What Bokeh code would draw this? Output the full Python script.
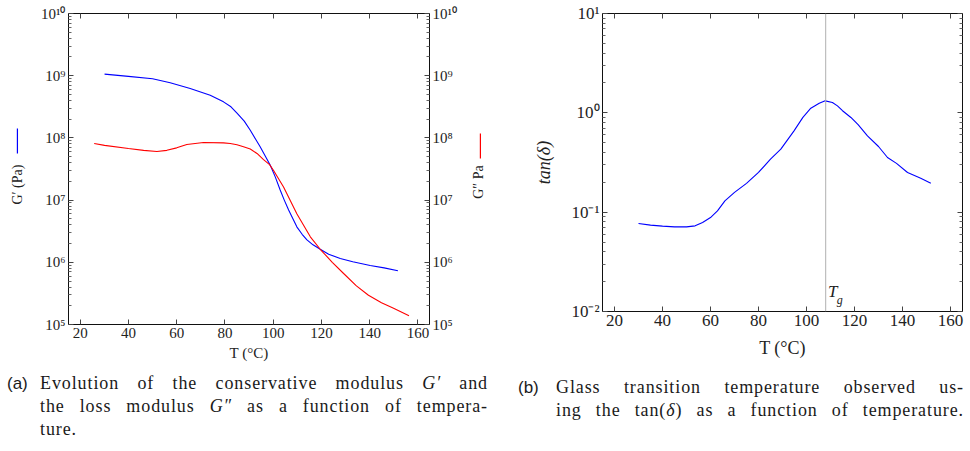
import numpy as np
from bokeh.plotting import figure
from bokeh.models import (LogAxis, LinearAxis, FixedTicker, Span, Label, Div,
                          Range1d, CustomJSTickFormatter)
from bokeh.layouts import row, column
from bokeh.embed import file_html
from bokeh.resources import INLINE
from bokeh.core.properties import value

# ---------------- data ----------------
T_gp = [30.1, 40, 50, 57.3, 65.6, 73.9, 79.4, 82.5, 85.0, 88.0, 90.5, 94.6, 98.8, 100.9, 102.9,
        104.6, 106.4, 109.8, 112.0, 114.0, 116.5, 119.5, 123.0, 127.8, 133.0, 140.2, 146.0, 151.7]
G_prime = [1.06e9, 9.77e8, 8.91e8, 7.69e8, 6.22e8, 4.86e8, 3.80e8, 3.16e8, 2.50e8, 1.86e8,
           1.33e8, 7.19e7, 3.63e7, 2.34e7, 1.45e7, 1.0e7, 6.92e6, 3.72e6, 2.82e6, 2.29e6,
           1.91e6, 1.62e6, 1.35e6, 1.15e6, 1.02e6, 8.91e5, 8.13e5, 7.30e5]

T_gpp = [25.8, 30.1, 40, 46.3, 51.8, 55.9, 60, 64.2, 71.1, 79.4, 82.2, 85.0, 87.7, 90.5, 93.3,
         96.0, 98.5, 100.1, 104.3, 109.8, 115.4, 119.5, 124.5, 129.2, 134.5, 139.5, 144.9,
         149.9, 156.3]
G_second = [8.13e7, 7.59e7, 6.76e7, 6.31e7, 6.03e7, 6.31e7, 6.92e7, 7.83e7, 8.43e7, 8.32e7,
            8.13e7, 7.76e7, 7.19e7, 6.61e7, 5.62e7, 4.47e7, 3.72e7, 3.02e7, 1.62e7, 6.03e6,
            2.57e6, 1.62e6, 1.0e6, 6.61e5, 4.17e5, 2.95e5, 2.24e5, 1.82e5, 1.38e5]

T_tan = [30, 35, 40, 45, 50, 53.6, 56.7, 60, 62.9, 66, 70, 75, 80, 85, 89.3, 94.8, 98.5,
         101.8, 105.3, 107.8, 110.8, 112.9, 115, 118.5, 121.5, 125.4, 130, 133.75, 137.5,
         142.1, 147.6, 151.8]
tan_delta = [0.0769, 0.0740, 0.0723, 0.0711, 0.0711, 0.0728, 0.0787, 0.0883, 0.103, 0.130,
             0.158, 0.195, 0.251, 0.342, 0.431, 0.659, 0.90, 1.114, 1.25, 1.32, 1.27, 1.175,
             1.05, 0.898, 0.76, 0.586, 0.458, 0.355, 0.31, 0.251, 0.220, 0.196]

Tg = 108

x_ticks = [20, 40, 60, 80, 100, 120, 140, 160]
y1_ticks = [1e5, 1e6, 1e7, 1e8, 1e9, 1e10]
y1_labels = ["10⁵", "10⁶", "10⁷", "10⁸", "10⁹", "10¹⁰"]
y2_ticks = [1e-2, 1e-1, 1e0, 1e1]
y2_labels = ["10⁻²", "10⁻¹", "10⁰", "10¹"]

FONT = "Liberation Serif"
BLUE = "#0000ff"
RED = "#ff0000"
TXT = "#222222"


def minor_for(ticks):
    out = []
    for t in ticks[:-1]:
        out += [t * k for k in range(2, 10)]
    return out


def log_formatter(ticks, labels):
    return CustomJSTickFormatter(args=dict(tvals=ticks, tlabels=labels), code="""
        for (let i = 0; i < tvals.length; i++) {
            if (Math.abs(Math.log10(tvals[i]) - Math.log10(tick)) < 1e-6) return tlabels[i];
        }
        return "";
    """)


def blank_formatter():
    return CustomJSTickFormatter(code="return '';")


def style(ax, fs, minor=True):
    ax.axis_line_color = "#111111"
    ax.axis_line_width = 1
    ax.major_tick_in = 5
    ax.major_tick_out = 0
    ax.minor_tick_in = 3 if minor else 0
    ax.minor_tick_out = 0
    ax.major_tick_line_color = "#444444"
    ax.minor_tick_line_color = "#666666" if minor else None
    ax.major_label_text_font = FONT
    ax.major_label_text_color = TXT
    ax.major_label_text_font_size = fs
    ax.major_label_standoff = 3
    ax.axis_label_text_font = FONT
    ax.axis_label_text_font_style = "normal"
    ax.axis_label_text_color = TXT


# ---------------- figure (a) ----------------
p1 = figure(frame_width=361, frame_height=311, y_axis_type="log",
            x_range=Range1d(15.15, 164.8), y_range=Range1d(1e5, 1e10),
            output_backend="svg", toolbar_location=None,
            min_border_left=32, min_border_right=41, min_border_top=10, min_border_bottom=47)
p1.grid.visible = False
p1.outline_line_color = None

p1.xaxis.ticker = FixedTicker(ticks=x_ticks)
style(p1.xaxis[0], "15px", minor=False)
p1.xaxis.axis_label = "T (°C)"
p1.xaxis.axis_label_text_font_size = "15px"
p1.xaxis.axis_label_standoff = 4

p1.yaxis.ticker = FixedTicker(ticks=y1_ticks, minor_ticks=minor_for(y1_ticks))
p1.yaxis.formatter = log_formatter(y1_ticks, y1_labels)
style(p1.yaxis[0], "15px")

r1 = LogAxis(ticker=FixedTicker(ticks=y1_ticks, minor_ticks=minor_for(y1_ticks)),
             formatter=log_formatter(y1_ticks, y1_labels))
style(r1, "15px")
p1.add_layout(r1, "right")
t1 = LinearAxis(ticker=FixedTicker(ticks=x_ticks), formatter=blank_formatter())
style(t1, "1px", minor=False)
t1.major_label_standoff = 0
p1.add_layout(t1, "above")

p1.line(T_gp, G_prime, line_color=BLUE, line_width=1.1)
p1.line(T_gpp, G_second, line_color=RED, line_width=1.1)


# side strips carrying the rotated axis titles with their legend lines
def side_fig(w):
    f = figure(frame_width=w, frame_height=311, y_axis_type="log",
               x_range=Range1d(0, 1), y_range=p1.y_range,
               output_backend="svg", toolbar_location=None,
               x_axis_location=None, y_axis_location=None,
               min_border_left=0, min_border_right=0, min_border_top=10, min_border_bottom=47)
    f.grid.visible = False
    f.outline_line_color = None
    return f


sL = side_fig(36)
sL.text(x=[0.47], y=[10**7.25], text=["G′ (Pa)"], angle=np.pi / 2,
        text_align="center", text_baseline="middle",
        text_font=value(FONT), text_font_size="14px", text_color=TXT)
sL.segment(x0=[0.47], y0=[10**7.75], x1=[0.47], y1=[10**8.15], line_color=BLUE, line_width=1.2)

sR = side_fig(30)
sR.text(x=[0.27], y=[10**7.29], text=["G″ Pa"], angle=np.pi / 2,
        text_align="center", text_baseline="middle",
        text_font=value(FONT), text_font_size="14px", text_color=TXT)
sR.segment(x0=[0.33], y0=[10**7.67], x1=[0.33], y1=[10**8.07], line_color=RED, line_width=1.2)

# ---------------- figure (b) ----------------
p2 = figure(frame_width=360, frame_height=298, y_axis_type="log",
            x_range=Range1d(15, 165), y_range=Range1d(1e-2, 1e1),
            output_backend="svg", toolbar_location=None,
            min_border_left=102, min_border_right=2, min_border_top=13, min_border_bottom=57)
p2.grid.visible = False
p2.outline_line_color = None

p2.xaxis.ticker = FixedTicker(ticks=x_ticks)
style(p2.xaxis[0], "17px", minor=False)
p2.xaxis.axis_label = "T (°C)"
p2.xaxis.axis_label_text_font_size = "18px"
p2.xaxis.axis_label_standoff = 9

p2.yaxis.ticker = FixedTicker(ticks=y2_ticks, minor_ticks=minor_for(y2_ticks))
p2.yaxis.formatter = log_formatter(y2_ticks, y2_labels)
style(p2.yaxis[0], "17px")
p2.yaxis.axis_label = "tan(δ)"
p2.yaxis.axis_label_text_font_size = "18px"
p2.yaxis.axis_label_text_font_style = "italic"
p2.yaxis.axis_label_standoff = 14

r2 = LogAxis(ticker=FixedTicker(ticks=y2_ticks, minor_ticks=minor_for(y2_ticks)),
             formatter=blank_formatter())
style(r2, "1px")
r2.major_label_standoff = 0
p2.add_layout(r2, "right")
t2 = LinearAxis(ticker=FixedTicker(ticks=x_ticks), formatter=blank_formatter())
style(t2, "1px", minor=False)
t2.major_label_standoff = 0
p2.add_layout(t2, "above")

p2.add_layout(Span(location=Tg, dimension="height", line_color="#b0b0b0", line_width=1))
p2.line(T_tan, tan_delta, line_color=BLUE, line_width=1.1)
p2.add_layout(Label(x=Tg + 1.0, y=10**-1.89, text="T", text_font=FONT,
                    text_font_style="italic", text_font_size="17px", text_color=TXT))
p2.add_layout(Label(x=Tg + 4.6, y=10**-1.95, text="g", text_font=FONT,
                    text_font_style="italic", text_font_size="12px", text_color=TXT))

# ---------------- captions ----------------
cap_style = ("font-family:'Liberation Serif';font-size:18px;letter-spacing:0.9px;"
             "line-height:23px;color:#1a1a1a;")
lab_style = "font-family:'Liberation Sans';font-size:17px;letter-spacing:0;flex:none;"
jl = "text-align:justify;text-align-last:justify;"

capA = Div(width=500, margin=0, text=(
    f'<div style="display:flex;padding-top:4px;padding-left:7px;{cap_style}">'
    f'<div style="{lab_style}width:33px;">(a)</div>'
    f'<div style="width:448px;">'
    f'<div style="{jl}">Evolution of the conservative modulus <i>G′</i> and</div>'
    f'<div style="{jl}">the loss modulus <i>G″</i> as a function of tempera-</div>'
    f'<div>ture.</div></div></div>'))

capB = Div(width=464, margin=0, text=(
    f'<div style="display:flex;padding-top:8px;padding-left:18px;{cap_style}">'
    f'<div style="{lab_style}width:38px;">(b)</div>'
    f'<div style="width:408px;">'
    f'<div style="{jl}">Glass transition temperature observed us-</div>'
    f'<div style="{jl}">ing the tan(<i>δ</i>) as a function of temperature.</div>'
    f'</div></div>'))

layout = column(row(sL, p1, sR, p2, spacing=0), row(capA, capB, spacing=0), spacing=0)

open("out.html", "w").write(file_html(layout, INLINE))
